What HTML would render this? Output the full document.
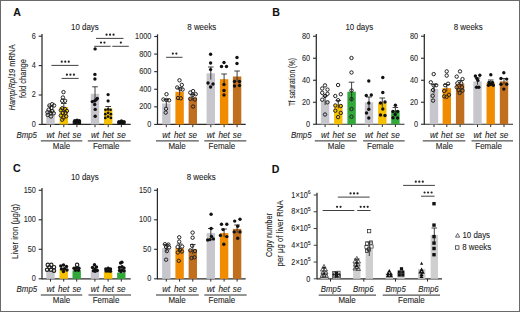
<!DOCTYPE html><html><head><meta charset="utf-8"><style>html,body{margin:0;padding:0;background:#fff;}svg{display:block;}text{font-family:"Liberation Sans", sans-serif;stroke:#222;stroke-width:0.1px;paint-order:stroke;}</style></head><body>
<svg width="520" height="312" viewBox="0 0 520 312">
<rect x="0" y="0" width="520" height="312" fill="#fff"/>
<text x="13.3" y="15.6" font-size="10.6" text-anchor="start" fill="#111" style="font-weight:bold;" stroke="#111" stroke-width="0.35">A</text>
<text x="272.3" y="15.8" font-size="10.6" text-anchor="start" fill="#111" style="font-weight:bold;" stroke="#111" stroke-width="0.35">B</text>
<text x="13" y="172.4" font-size="10.6" text-anchor="start" fill="#111" style="font-weight:bold;" stroke="#111" stroke-width="0.35">C</text>
<text x="271.8" y="172.6" font-size="10.6" text-anchor="start" fill="#111" style="font-weight:bold;" stroke="#111" stroke-width="0.35">D</text>
<text transform="translate(84.9,30) scale(0.92,1)" font-size="8.6" text-anchor="middle" fill="#1e1e1e" style="" >10 days</text>
<line x1="42" y1="34.000000000000014" x2="42" y2="124.9" stroke="#2b2b2b" stroke-width="1.25"/>
<line x1="38.7" y1="124.4" x2="42" y2="124.4" stroke="#2b2b2b" stroke-width="1.1"/>
<text transform="translate(35.80,126.85) scale(0.88,1)" font-size="8.3" text-anchor="end" fill="#262626" style="stroke-width:0.08px">0</text>
<line x1="38.7" y1="95.0" x2="42" y2="95.0" stroke="#2b2b2b" stroke-width="1.1"/>
<text transform="translate(35.80,97.45) scale(0.88,1)" font-size="8.3" text-anchor="end" fill="#262626" style="stroke-width:0.08px">2</text>
<line x1="38.7" y1="65.60000000000001" x2="42" y2="65.60000000000001" stroke="#2b2b2b" stroke-width="1.1"/>
<text transform="translate(35.80,68.05) scale(0.88,1)" font-size="8.3" text-anchor="end" fill="#262626" style="stroke-width:0.08px">4</text>
<line x1="38.7" y1="36.20000000000002" x2="42" y2="36.20000000000002" stroke="#2b2b2b" stroke-width="1.1"/>
<text transform="translate(35.80,38.65) scale(0.88,1)" font-size="8.3" text-anchor="end" fill="#262626" style="stroke-width:0.08px">6</text>
<line x1="42" y1="124.4" x2="130.7" y2="124.4" stroke="#2b2b2b" stroke-width="1.15"/>
<line x1="50.5" y1="124.4" x2="50.5" y2="127.2" stroke="#2b2b2b" stroke-width="1.0"/>
<line x1="63.8" y1="124.4" x2="63.8" y2="127.2" stroke="#2b2b2b" stroke-width="1.0"/>
<line x1="76.9" y1="124.4" x2="76.9" y2="127.2" stroke="#2b2b2b" stroke-width="1.0"/>
<line x1="95" y1="124.4" x2="95" y2="127.2" stroke="#2b2b2b" stroke-width="1.0"/>
<line x1="108.2" y1="124.4" x2="108.2" y2="127.2" stroke="#2b2b2b" stroke-width="1.0"/>
<line x1="121.4" y1="124.4" x2="121.4" y2="127.2" stroke="#2b2b2b" stroke-width="1.0"/>
<rect x="46.3" y="109.5" width="8.4" height="14.900000000000006" fill="#c6c6cc"/>
<line x1="50.5" y1="106" x2="50.5" y2="113.0" stroke="#2b2b2b" stroke-width="0.9"/>
<line x1="47.7" y1="106" x2="53.3" y2="106" stroke="#2b2b2b" stroke-width="0.9"/>
<rect x="59.599999999999994" y="107.0" width="8.4" height="17.400000000000006" fill="#f5c000"/>
<line x1="63.8" y1="103.5" x2="63.8" y2="110.5" stroke="#2b2b2b" stroke-width="0.9"/>
<line x1="61.0" y1="103.5" x2="66.6" y2="103.5" stroke="#2b2b2b" stroke-width="0.9"/>
<rect x="72.7" y="120.8" width="8.4" height="3.6000000000000085" fill="#1a1a1a"/>
<rect x="90.8" y="93.8" width="8.4" height="30.60000000000001" fill="#c6c6cc"/>
<line x1="95" y1="86.8" x2="95" y2="100.8" stroke="#2b2b2b" stroke-width="0.9"/>
<line x1="92.2" y1="86.8" x2="97.8" y2="86.8" stroke="#2b2b2b" stroke-width="0.9"/>
<rect x="104.0" y="108.6" width="8.4" height="15.800000000000011" fill="#f5c000"/>
<line x1="108.2" y1="106.5" x2="108.2" y2="110.69999999999999" stroke="#2b2b2b" stroke-width="0.9"/>
<line x1="105.4" y1="106.5" x2="111.0" y2="106.5" stroke="#2b2b2b" stroke-width="0.9"/>
<rect x="117.2" y="121.3" width="8.4" height="3.1000000000000085" fill="#1a1a1a"/>
<circle cx="52.1" cy="104.2" r="1.7" fill="none" stroke="#222" stroke-width="1.0"/>
<circle cx="49.4" cy="105.5" r="1.7" fill="none" stroke="#222" stroke-width="1.0"/>
<circle cx="54.1" cy="105.5" r="1.7" fill="none" stroke="#222" stroke-width="1.0"/>
<circle cx="51.4" cy="108" r="1.7" fill="none" stroke="#222" stroke-width="1.0"/>
<circle cx="48.7" cy="109.6" r="1.7" fill="none" stroke="#222" stroke-width="1.0"/>
<circle cx="52.1" cy="111" r="1.7" fill="none" stroke="#222" stroke-width="1.0"/>
<circle cx="47.4" cy="112.3" r="1.7" fill="none" stroke="#222" stroke-width="1.0"/>
<circle cx="50.7" cy="112.9" r="1.7" fill="none" stroke="#222" stroke-width="1.0"/>
<circle cx="53.8" cy="113.3" r="1.7" fill="none" stroke="#222" stroke-width="1.0"/>
<circle cx="47.7" cy="115" r="1.7" fill="none" stroke="#222" stroke-width="1.0"/>
<circle cx="51" cy="116.5" r="1.7" fill="none" stroke="#222" stroke-width="1.0"/>
<circle cx="63.5" cy="92.1" r="1.7" fill="none" stroke="#222" stroke-width="1.0"/>
<circle cx="62.9" cy="97.5" r="1.7" fill="none" stroke="#222" stroke-width="1.0"/>
<circle cx="62.2" cy="100.8" r="1.7" fill="none" stroke="#222" stroke-width="1.0"/>
<circle cx="65.1" cy="100.8" r="1.7" fill="none" stroke="#222" stroke-width="1.0"/>
<circle cx="62.2" cy="108.2" r="1.7" fill="none" stroke="#222" stroke-width="1.0"/>
<circle cx="64.9" cy="108.9" r="1.7" fill="none" stroke="#222" stroke-width="1.0"/>
<circle cx="60.8" cy="110.2" r="1.7" fill="none" stroke="#222" stroke-width="1.0"/>
<circle cx="66.9" cy="110.9" r="1.7" fill="none" stroke="#222" stroke-width="1.0"/>
<circle cx="62.9" cy="112.9" r="1.7" fill="none" stroke="#222" stroke-width="1.0"/>
<circle cx="65.5" cy="112.9" r="1.7" fill="none" stroke="#222" stroke-width="1.0"/>
<circle cx="60.8" cy="115.6" r="1.7" fill="none" stroke="#222" stroke-width="1.0"/>
<circle cx="66.2" cy="116.3" r="1.7" fill="none" stroke="#222" stroke-width="1.0"/>
<circle cx="63.5" cy="117.6" r="1.7" fill="none" stroke="#222" stroke-width="1.0"/>
<circle cx="62.2" cy="119.7" r="1.7" fill="none" stroke="#222" stroke-width="1.0"/>
<circle cx="74.8" cy="120.6" r="1.7" fill="#111"/>
<circle cx="77" cy="120.2" r="1.7" fill="#111"/>
<circle cx="79.3" cy="120.6" r="1.7" fill="#111"/>
<circle cx="76" cy="122" r="1.7" fill="#111"/>
<circle cx="78.5" cy="122" r="1.7" fill="#111"/>
<circle cx="95.1" cy="48.9" r="1.7" fill="#111"/>
<circle cx="94.9" cy="74.4" r="1.7" fill="#111"/>
<circle cx="94.9" cy="79" r="1.7" fill="#111"/>
<circle cx="92.3" cy="101.6" r="1.7" fill="#111"/>
<circle cx="94.7" cy="100.9" r="1.7" fill="#111"/>
<circle cx="97.3" cy="98.4" r="1.7" fill="#111"/>
<circle cx="96.2" cy="99.8" r="1.7" fill="#111"/>
<circle cx="94.7" cy="104.5" r="1.7" fill="#111"/>
<circle cx="95.2" cy="109.4" r="1.7" fill="#111"/>
<circle cx="95.2" cy="116.2" r="1.7" fill="#111"/>
<circle cx="108.1" cy="94.6" r="1.6" fill="#111"/>
<circle cx="108.1" cy="100.9" r="1.6" fill="#111"/>
<circle cx="105.5" cy="109.8" r="1.35" fill="#111"/>
<circle cx="108.1" cy="109.3" r="1.35" fill="#111"/>
<circle cx="110.6" cy="109.8" r="1.35" fill="#111"/>
<circle cx="105.3" cy="114.2" r="1.35" fill="#111"/>
<circle cx="108.1" cy="112.8" r="1.35" fill="#111"/>
<circle cx="110.9" cy="114.2" r="1.35" fill="#111"/>
<circle cx="105.3" cy="117.9" r="1.35" fill="#111"/>
<circle cx="108.1" cy="116.6" r="1.35" fill="#111"/>
<circle cx="110.9" cy="117.9" r="1.35" fill="#111"/>
<circle cx="119" cy="121.6" r="1.7" fill="#111"/>
<circle cx="121.5" cy="121" r="1.7" fill="#111"/>
<circle cx="124" cy="121.8" r="1.7" fill="#111"/>
<circle cx="120.5" cy="122.5" r="1.7" fill="#111"/>
<circle cx="123" cy="122.6" r="1.7" fill="#111"/>
<line x1="51.4" y1="65.4" x2="78.5" y2="65.4" stroke="#2b2b2b" stroke-width="0.9"/>
<circle cx="61.75" cy="61.70" r="1.1" fill="#222"/>
<circle cx="65.25" cy="61.70" r="1.1" fill="#222"/>
<circle cx="68.75" cy="61.70" r="1.1" fill="#222"/>
<line x1="61.6" y1="78.4" x2="78.6" y2="78.4" stroke="#2b2b2b" stroke-width="0.9"/>
<circle cx="66.90" cy="74.70" r="1.1" fill="#222"/>
<circle cx="70.40" cy="74.70" r="1.1" fill="#222"/>
<circle cx="73.90" cy="74.70" r="1.1" fill="#222"/>
<line x1="96" y1="38.4" x2="123.5" y2="38.4" stroke="#2b2b2b" stroke-width="0.9"/>
<circle cx="106.55" cy="34.70" r="1.1" fill="#222"/>
<circle cx="110.05" cy="34.70" r="1.1" fill="#222"/>
<circle cx="113.55" cy="34.70" r="1.1" fill="#222"/>
<line x1="94.2" y1="46.3" x2="110.6" y2="46.3" stroke="#2b2b2b" stroke-width="0.9"/>
<circle cx="100.95" cy="42.60" r="1.1" fill="#222"/>
<circle cx="104.45" cy="42.60" r="1.1" fill="#222"/>
<line x1="112.3" y1="46.3" x2="128.8" y2="46.3" stroke="#2b2b2b" stroke-width="0.9"/>
<circle cx="120.85" cy="42.60" r="1.1" fill="#222"/>
<text transform="translate(50.5,137.6) scale(0.91,1)" font-size="9.0" text-anchor="middle" fill="#1e1e1e" style="font-style:italic;" >wt</text>
<text transform="translate(63.8,137.6) scale(0.91,1)" font-size="9.0" text-anchor="middle" fill="#1e1e1e" style="font-style:italic;" >het</text>
<text transform="translate(76.9,137.6) scale(0.91,1)" font-size="9.0" text-anchor="middle" fill="#1e1e1e" style="font-style:italic;" >se</text>
<line x1="40.8" y1="140.9" x2="82.3" y2="140.9" stroke="#2b2b2b" stroke-width="1.0"/>
<text transform="translate(61.5,149) scale(0.93,1)" font-size="8.6" text-anchor="middle" fill="#1e1e1e" style="" >Male</text>
<text transform="translate(95,137.6) scale(0.91,1)" font-size="9.0" text-anchor="middle" fill="#1e1e1e" style="font-style:italic;" >wt</text>
<text transform="translate(108.2,137.6) scale(0.91,1)" font-size="9.0" text-anchor="middle" fill="#1e1e1e" style="font-style:italic;" >het</text>
<text transform="translate(121.4,137.6) scale(0.91,1)" font-size="9.0" text-anchor="middle" fill="#1e1e1e" style="font-style:italic;" >se</text>
<line x1="87.8" y1="140.9" x2="130.7" y2="140.9" stroke="#2b2b2b" stroke-width="1.0"/>
<text transform="translate(106.2,149) scale(0.93,1)" font-size="8.6" text-anchor="middle" fill="#1e1e1e" style="" >Female</text>
<text transform="translate(26.7,137.6) scale(0.92,1)" font-size="8.6" text-anchor="middle" fill="#1e1e1e" font-style="italic">Bmp5</text>
<text transform="translate(15.3,77.5) rotate(-90)" font-size="8.4" text-anchor="middle" fill="#1e1e1e" textLength="66" lengthAdjust="spacingAndGlyphs"><tspan font-style="italic">Hamp/Rpl19</tspan> mRNA</text>
<text transform="translate(25.8,78.5) rotate(-90)" font-size="8.4" text-anchor="middle" fill="#1e1e1e" textLength="39" lengthAdjust="spacingAndGlyphs">fold change</text>
<text transform="translate(201.8,29.8) scale(0.92,1)" font-size="8.6" text-anchor="middle" fill="#1e1e1e" style="" >8 weeks</text>
<line x1="157.5" y1="34.3" x2="157.5" y2="124.9" stroke="#2b2b2b" stroke-width="1.25"/>
<line x1="154.2" y1="124.4" x2="157.5" y2="124.4" stroke="#2b2b2b" stroke-width="1.1"/>
<text transform="translate(151.30,126.85) scale(0.88,1)" font-size="8.3" text-anchor="end" fill="#262626" style="stroke-width:0.08px">0</text>
<line x1="154.2" y1="106.82000000000001" x2="157.5" y2="106.82000000000001" stroke="#2b2b2b" stroke-width="1.1"/>
<text transform="translate(151.30,109.27) scale(0.88,1)" font-size="8.3" text-anchor="end" fill="#262626" style="stroke-width:0.08px">200</text>
<line x1="154.2" y1="89.24000000000001" x2="157.5" y2="89.24000000000001" stroke="#2b2b2b" stroke-width="1.1"/>
<text transform="translate(151.30,91.69) scale(0.88,1)" font-size="8.3" text-anchor="end" fill="#262626" style="stroke-width:0.08px">400</text>
<line x1="154.2" y1="71.66" x2="157.5" y2="71.66" stroke="#2b2b2b" stroke-width="1.1"/>
<text transform="translate(151.30,74.11) scale(0.88,1)" font-size="8.3" text-anchor="end" fill="#262626" style="stroke-width:0.08px">600</text>
<line x1="154.2" y1="54.08" x2="157.5" y2="54.08" stroke="#2b2b2b" stroke-width="1.1"/>
<text transform="translate(151.30,56.53) scale(0.88,1)" font-size="8.3" text-anchor="end" fill="#262626" style="stroke-width:0.08px">800</text>
<line x1="154.2" y1="36.5" x2="157.5" y2="36.5" stroke="#2b2b2b" stroke-width="1.1"/>
<text transform="translate(151.30,38.95) scale(0.88,1)" font-size="8.3" text-anchor="end" fill="#262626" style="stroke-width:0.08px">1000</text>
<line x1="157.5" y1="124.4" x2="245.7" y2="124.4" stroke="#2b2b2b" stroke-width="1.15"/>
<line x1="166.3" y1="124.4" x2="166.3" y2="127.2" stroke="#2b2b2b" stroke-width="1.0"/>
<line x1="179.6" y1="124.4" x2="179.6" y2="127.2" stroke="#2b2b2b" stroke-width="1.0"/>
<line x1="192.8" y1="124.4" x2="192.8" y2="127.2" stroke="#2b2b2b" stroke-width="1.0"/>
<line x1="210.8" y1="124.4" x2="210.8" y2="127.2" stroke="#2b2b2b" stroke-width="1.0"/>
<line x1="224.1" y1="124.4" x2="224.1" y2="127.2" stroke="#2b2b2b" stroke-width="1.0"/>
<line x1="237.1" y1="124.4" x2="237.1" y2="127.2" stroke="#2b2b2b" stroke-width="1.0"/>
<rect x="162.10000000000002" y="103.5" width="8.4" height="20.900000000000006" fill="#c6c6cc"/>
<line x1="166.3" y1="99.5" x2="166.3" y2="107.5" stroke="#2b2b2b" stroke-width="0.9"/>
<line x1="163.5" y1="99.5" x2="169.10000000000002" y2="99.5" stroke="#2b2b2b" stroke-width="0.9"/>
<rect x="175.4" y="91.8" width="8.4" height="32.60000000000001" fill="#f18c00"/>
<line x1="179.6" y1="88" x2="179.6" y2="95.6" stroke="#2b2b2b" stroke-width="0.9"/>
<line x1="176.79999999999998" y1="88" x2="182.4" y2="88" stroke="#2b2b2b" stroke-width="0.9"/>
<rect x="188.60000000000002" y="97.5" width="8.4" height="26.900000000000006" fill="#c06f1e"/>
<line x1="192.8" y1="94.5" x2="192.8" y2="100.5" stroke="#2b2b2b" stroke-width="0.9"/>
<line x1="190.0" y1="94.5" x2="195.60000000000002" y2="94.5" stroke="#2b2b2b" stroke-width="0.9"/>
<rect x="206.60000000000002" y="73.3" width="8.4" height="51.10000000000001" fill="#c6c6cc"/>
<line x1="210.8" y1="67" x2="210.8" y2="79.6" stroke="#2b2b2b" stroke-width="0.9"/>
<line x1="208.0" y1="67" x2="213.60000000000002" y2="67" stroke="#2b2b2b" stroke-width="0.9"/>
<rect x="219.9" y="79.2" width="8.4" height="45.2" fill="#f18c00"/>
<line x1="224.1" y1="74" x2="224.1" y2="84.4" stroke="#2b2b2b" stroke-width="0.9"/>
<line x1="221.29999999999998" y1="74" x2="226.9" y2="74" stroke="#2b2b2b" stroke-width="0.9"/>
<rect x="232.9" y="76.5" width="8.4" height="47.900000000000006" fill="#c06f1e"/>
<line x1="237.1" y1="71" x2="237.1" y2="82.0" stroke="#2b2b2b" stroke-width="0.9"/>
<line x1="234.29999999999998" y1="71" x2="239.9" y2="71" stroke="#2b2b2b" stroke-width="0.9"/>
<circle cx="166.5" cy="94.2" r="1.7" fill="none" stroke="#222" stroke-width="1.0"/>
<circle cx="163.4" cy="99.5" r="1.7" fill="none" stroke="#222" stroke-width="1.0"/>
<circle cx="166.5" cy="100" r="1.7" fill="none" stroke="#222" stroke-width="1.0"/>
<circle cx="169.1" cy="100.3" r="1.7" fill="none" stroke="#222" stroke-width="1.0"/>
<circle cx="166" cy="108.8" r="1.7" fill="none" stroke="#222" stroke-width="1.0"/>
<circle cx="165.7" cy="112.6" r="1.7" fill="none" stroke="#222" stroke-width="1.0"/>
<circle cx="179.5" cy="80.3" r="1.7" fill="none" stroke="#222" stroke-width="1.0"/>
<circle cx="181.8" cy="84.9" r="1.7" fill="none" stroke="#222" stroke-width="1.0"/>
<circle cx="177.2" cy="87.5" r="1.7" fill="none" stroke="#222" stroke-width="1.0"/>
<circle cx="180.3" cy="89.1" r="1.7" fill="none" stroke="#222" stroke-width="1.0"/>
<circle cx="182.6" cy="89.5" r="1.7" fill="none" stroke="#222" stroke-width="1.0"/>
<circle cx="178" cy="98" r="1.7" fill="none" stroke="#222" stroke-width="1.0"/>
<circle cx="180.8" cy="98.3" r="1.7" fill="none" stroke="#222" stroke-width="1.0"/>
<circle cx="193.1" cy="91.1" r="1.7" fill="none" stroke="#222" stroke-width="1.0"/>
<circle cx="190.3" cy="92.6" r="1.7" fill="none" stroke="#222" stroke-width="1.0"/>
<circle cx="195.7" cy="94.2" r="1.7" fill="none" stroke="#222" stroke-width="1.0"/>
<circle cx="192.6" cy="95" r="1.7" fill="none" stroke="#222" stroke-width="1.0"/>
<circle cx="190.3" cy="98.8" r="1.7" fill="none" stroke="#222" stroke-width="1.0"/>
<circle cx="194.9" cy="99.5" r="1.7" fill="none" stroke="#222" stroke-width="1.0"/>
<circle cx="193.1" cy="106.5" r="1.7" fill="none" stroke="#222" stroke-width="1.0"/>
<circle cx="210.6" cy="54.2" r="1.7" fill="#111"/>
<circle cx="210.6" cy="63" r="1.7" fill="#111"/>
<circle cx="210.6" cy="69.6" r="1.7" fill="#111"/>
<circle cx="208" cy="83" r="1.7" fill="#111"/>
<circle cx="213" cy="84" r="1.7" fill="#111"/>
<circle cx="210.6" cy="87" r="1.7" fill="#111"/>
<circle cx="224" cy="62.5" r="1.7" fill="#111"/>
<circle cx="221.5" cy="66.5" r="1.7" fill="#111"/>
<circle cx="226.5" cy="66.5" r="1.7" fill="#111"/>
<circle cx="224" cy="84.5" r="1.7" fill="#111"/>
<circle cx="224" cy="90.5" r="1.7" fill="#111"/>
<circle cx="224" cy="95" r="1.7" fill="#111"/>
<circle cx="237" cy="57.5" r="1.7" fill="#111"/>
<circle cx="237" cy="63.5" r="1.7" fill="#111"/>
<circle cx="234.5" cy="81.5" r="1.7" fill="#111"/>
<circle cx="239.5" cy="81.5" r="1.7" fill="#111"/>
<circle cx="234.5" cy="86" r="1.7" fill="#111"/>
<circle cx="239.5" cy="85.5" r="1.7" fill="#111"/>
<line x1="166.1" y1="57.3" x2="182.5" y2="57.3" stroke="#2b2b2b" stroke-width="0.9"/>
<circle cx="172.85" cy="53.60" r="1.1" fill="#222"/>
<circle cx="176.35" cy="53.60" r="1.1" fill="#222"/>
<text transform="translate(166.3,137.6) scale(0.91,1)" font-size="9.0" text-anchor="middle" fill="#1e1e1e" style="font-style:italic;" >wt</text>
<text transform="translate(179.6,137.6) scale(0.91,1)" font-size="9.0" text-anchor="middle" fill="#1e1e1e" style="font-style:italic;" >het</text>
<text transform="translate(192.8,137.6) scale(0.91,1)" font-size="9.0" text-anchor="middle" fill="#1e1e1e" style="font-style:italic;" >se</text>
<line x1="156" y1="140.9" x2="198.8" y2="140.9" stroke="#2b2b2b" stroke-width="1.0"/>
<text transform="translate(177.1,149) scale(0.93,1)" font-size="8.6" text-anchor="middle" fill="#1e1e1e" style="" >Male</text>
<text transform="translate(210.8,137.6) scale(0.91,1)" font-size="9.0" text-anchor="middle" fill="#1e1e1e" style="font-style:italic;" >wt</text>
<text transform="translate(224.1,137.6) scale(0.91,1)" font-size="9.0" text-anchor="middle" fill="#1e1e1e" style="font-style:italic;" >het</text>
<text transform="translate(237.1,137.6) scale(0.91,1)" font-size="9.0" text-anchor="middle" fill="#1e1e1e" style="font-style:italic;" >se</text>
<line x1="204.3" y1="140.9" x2="246.3" y2="140.9" stroke="#2b2b2b" stroke-width="1.0"/>
<text transform="translate(221.9,149) scale(0.93,1)" font-size="8.6" text-anchor="middle" fill="#1e1e1e" style="" >Female</text>
<text transform="translate(359.3,30) scale(0.92,1)" font-size="8.6" text-anchor="middle" fill="#1e1e1e" style="" >10 days</text>
<line x1="316.3" y1="34.05" x2="316.3" y2="124.75" stroke="#2b2b2b" stroke-width="1.25"/>
<line x1="313.0" y1="124.25" x2="316.3" y2="124.25" stroke="#2b2b2b" stroke-width="1.1"/>
<text transform="translate(310.10,126.70) scale(0.88,1)" font-size="8.3" text-anchor="end" fill="#262626" style="stroke-width:0.08px">0</text>
<line x1="313.0" y1="102.25" x2="316.3" y2="102.25" stroke="#2b2b2b" stroke-width="1.1"/>
<text transform="translate(310.10,104.70) scale(0.88,1)" font-size="8.3" text-anchor="end" fill="#262626" style="stroke-width:0.08px">20</text>
<line x1="313.0" y1="80.25" x2="316.3" y2="80.25" stroke="#2b2b2b" stroke-width="1.1"/>
<text transform="translate(310.10,82.70) scale(0.88,1)" font-size="8.3" text-anchor="end" fill="#262626" style="stroke-width:0.08px">40</text>
<line x1="313.0" y1="58.25" x2="316.3" y2="58.25" stroke="#2b2b2b" stroke-width="1.1"/>
<text transform="translate(310.10,60.70) scale(0.88,1)" font-size="8.3" text-anchor="end" fill="#262626" style="stroke-width:0.08px">60</text>
<line x1="313.0" y1="36.25" x2="316.3" y2="36.25" stroke="#2b2b2b" stroke-width="1.1"/>
<text transform="translate(310.10,38.70) scale(0.88,1)" font-size="8.3" text-anchor="end" fill="#262626" style="stroke-width:0.08px">80</text>
<line x1="316.3" y1="124.25" x2="404.5" y2="124.25" stroke="#2b2b2b" stroke-width="1.15"/>
<line x1="325.1" y1="124.25" x2="325.1" y2="127.05" stroke="#2b2b2b" stroke-width="1.0"/>
<line x1="338.3" y1="124.25" x2="338.3" y2="127.05" stroke="#2b2b2b" stroke-width="1.0"/>
<line x1="351.6" y1="124.25" x2="351.6" y2="127.05" stroke="#2b2b2b" stroke-width="1.0"/>
<line x1="369" y1="124.25" x2="369" y2="127.05" stroke="#2b2b2b" stroke-width="1.0"/>
<line x1="382.3" y1="124.25" x2="382.3" y2="127.05" stroke="#2b2b2b" stroke-width="1.0"/>
<line x1="395.4" y1="124.25" x2="395.4" y2="127.05" stroke="#2b2b2b" stroke-width="1.0"/>
<rect x="320.90000000000003" y="100.5" width="8.4" height="23.75" fill="#c6c6cc"/>
<line x1="325.1" y1="96" x2="325.1" y2="105.0" stroke="#2b2b2b" stroke-width="0.9"/>
<line x1="322.3" y1="96" x2="327.90000000000003" y2="96" stroke="#2b2b2b" stroke-width="0.9"/>
<rect x="334.1" y="104.4" width="8.4" height="19.849999999999994" fill="#f5c000"/>
<line x1="338.3" y1="100.5" x2="338.3" y2="108.30000000000001" stroke="#2b2b2b" stroke-width="0.9"/>
<line x1="335.5" y1="100.5" x2="341.1" y2="100.5" stroke="#2b2b2b" stroke-width="0.9"/>
<rect x="347.40000000000003" y="91.7" width="8.4" height="32.55" fill="#32a83a"/>
<line x1="351.6" y1="82.2" x2="351.6" y2="101.2" stroke="#2b2b2b" stroke-width="0.9"/>
<line x1="348.8" y1="82.2" x2="354.40000000000003" y2="82.2" stroke="#2b2b2b" stroke-width="0.9"/>
<rect x="364.8" y="102.4" width="8.4" height="21.849999999999994" fill="#c6c6cc"/>
<line x1="369" y1="97" x2="369" y2="107.80000000000001" stroke="#2b2b2b" stroke-width="0.9"/>
<line x1="366.2" y1="97" x2="371.8" y2="97" stroke="#2b2b2b" stroke-width="0.9"/>
<rect x="378.1" y="102.4" width="8.4" height="21.849999999999994" fill="#f5c000"/>
<line x1="382.3" y1="98" x2="382.3" y2="106.80000000000001" stroke="#2b2b2b" stroke-width="0.9"/>
<line x1="379.5" y1="98" x2="385.1" y2="98" stroke="#2b2b2b" stroke-width="0.9"/>
<rect x="391.2" y="110.6" width="8.4" height="13.650000000000006" fill="#32a83a"/>
<line x1="395.4" y1="107.5" x2="395.4" y2="113.69999999999999" stroke="#2b2b2b" stroke-width="0.9"/>
<line x1="392.59999999999997" y1="107.5" x2="398.2" y2="107.5" stroke="#2b2b2b" stroke-width="0.9"/>
<circle cx="325" cy="85.4" r="1.7" fill="none" stroke="#222" stroke-width="1.0"/>
<circle cx="322.2" cy="88.5" r="1.7" fill="none" stroke="#222" stroke-width="1.0"/>
<circle cx="327.5" cy="89.6" r="1.7" fill="none" stroke="#222" stroke-width="1.0"/>
<circle cx="322.2" cy="92.8" r="1.7" fill="none" stroke="#222" stroke-width="1.0"/>
<circle cx="327.5" cy="93.8" r="1.7" fill="none" stroke="#222" stroke-width="1.0"/>
<circle cx="325" cy="96" r="1.7" fill="none" stroke="#222" stroke-width="1.0"/>
<circle cx="322.2" cy="99.7" r="1.7" fill="none" stroke="#222" stroke-width="1.0"/>
<circle cx="327.5" cy="102.3" r="1.7" fill="none" stroke="#222" stroke-width="1.0"/>
<circle cx="325" cy="114.5" r="1.7" fill="none" stroke="#222" stroke-width="1.0"/>
<circle cx="338.1" cy="85" r="1.7" fill="none" stroke="#222" stroke-width="1.0"/>
<circle cx="335.3" cy="96" r="1.7" fill="none" stroke="#222" stroke-width="1.0"/>
<circle cx="340.8" cy="94.2" r="1.7" fill="none" stroke="#222" stroke-width="1.0"/>
<circle cx="338.1" cy="100.2" r="1.7" fill="none" stroke="#222" stroke-width="1.0"/>
<circle cx="335.3" cy="105.5" r="1.7" fill="none" stroke="#222" stroke-width="1.0"/>
<circle cx="340.8" cy="106" r="1.7" fill="none" stroke="#222" stroke-width="1.0"/>
<circle cx="335.3" cy="110.7" r="1.7" fill="none" stroke="#222" stroke-width="1.0"/>
<circle cx="340.8" cy="112.9" r="1.7" fill="none" stroke="#222" stroke-width="1.0"/>
<circle cx="338.1" cy="117.1" r="1.7" fill="none" stroke="#222" stroke-width="1.0"/>
<circle cx="351.5" cy="58" r="1.7" fill="none" stroke="#222" stroke-width="1.0"/>
<circle cx="351.5" cy="72.5" r="1.7" fill="none" stroke="#222" stroke-width="1.0"/>
<circle cx="351.5" cy="90.5" r="1.7" fill="none" stroke="#222" stroke-width="1.0"/>
<circle cx="351.5" cy="99.1" r="1.7" fill="none" stroke="#222" stroke-width="1.0"/>
<circle cx="351.5" cy="109" r="1.7" fill="none" stroke="#222" stroke-width="1.0"/>
<circle cx="351.5" cy="116.7" r="1.7" fill="none" stroke="#222" stroke-width="1.0"/>
<circle cx="368.8" cy="81" r="1.7" fill="#111"/>
<circle cx="366.3" cy="95.5" r="1.7" fill="#111"/>
<circle cx="371.3" cy="95" r="1.7" fill="#111"/>
<circle cx="368.8" cy="103" r="1.7" fill="#111"/>
<circle cx="368.8" cy="109.3" r="1.7" fill="#111"/>
<circle cx="368.8" cy="118" r="1.7" fill="#111"/>
<circle cx="366.5" cy="113" r="1.7" fill="#111"/>
<circle cx="382.8" cy="77.5" r="1.7" fill="#111"/>
<circle cx="382.8" cy="92.5" r="1.7" fill="#111"/>
<circle cx="380.5" cy="103" r="1.7" fill="#111"/>
<circle cx="385" cy="102" r="1.7" fill="#111"/>
<circle cx="382.8" cy="109" r="1.7" fill="#111"/>
<circle cx="380.5" cy="115" r="1.7" fill="#111"/>
<circle cx="385" cy="115.5" r="1.7" fill="#111"/>
<circle cx="395.4" cy="105.2" r="1.7" fill="#111"/>
<circle cx="393" cy="111.5" r="1.7" fill="#111"/>
<circle cx="397.6" cy="111.5" r="1.7" fill="#111"/>
<circle cx="395.2" cy="114.5" r="1.7" fill="#111"/>
<circle cx="393" cy="117.8" r="1.7" fill="#111"/>
<circle cx="397.6" cy="118" r="1.7" fill="#111"/>
<text transform="translate(325.1,137.6) scale(0.91,1)" font-size="9.0" text-anchor="middle" fill="#1e1e1e" style="font-style:italic;" >wt</text>
<text transform="translate(338.3,137.6) scale(0.91,1)" font-size="9.0" text-anchor="middle" fill="#1e1e1e" style="font-style:italic;" >het</text>
<text transform="translate(351.6,137.6) scale(0.91,1)" font-size="9.0" text-anchor="middle" fill="#1e1e1e" style="font-style:italic;" >se</text>
<line x1="314.8" y1="140.9" x2="356.8" y2="140.9" stroke="#2b2b2b" stroke-width="1.0"/>
<text transform="translate(336.4,149) scale(0.93,1)" font-size="8.6" text-anchor="middle" fill="#1e1e1e" style="" >Male</text>
<text transform="translate(369,137.6) scale(0.91,1)" font-size="9.0" text-anchor="middle" fill="#1e1e1e" style="font-style:italic;" >wt</text>
<text transform="translate(382.3,137.6) scale(0.91,1)" font-size="9.0" text-anchor="middle" fill="#1e1e1e" style="font-style:italic;" >het</text>
<text transform="translate(395.4,137.6) scale(0.91,1)" font-size="9.0" text-anchor="middle" fill="#1e1e1e" style="font-style:italic;" >se</text>
<line x1="363.1" y1="140.9" x2="404.7" y2="140.9" stroke="#2b2b2b" stroke-width="1.0"/>
<text transform="translate(380.35,149) scale(0.93,1)" font-size="8.6" text-anchor="middle" fill="#1e1e1e" style="" >Female</text>
<text transform="translate(301.3,137.6) scale(0.92,1)" font-size="8.6" text-anchor="middle" fill="#1e1e1e" font-style="italic">Bmp5</text>
<text transform="translate(295.2,82.1) rotate(-90)" font-size="8.5" text-anchor="middle" fill="#1e1e1e" textLength="48" lengthAdjust="spacingAndGlyphs">Tf saturation (%)</text>
<text transform="translate(468.2,29.8) scale(0.92,1)" font-size="8.6" text-anchor="middle" fill="#1e1e1e" style="" >8 weeks</text>
<line x1="424.3" y1="34.05" x2="424.3" y2="124.75" stroke="#2b2b2b" stroke-width="1.25"/>
<line x1="421.0" y1="124.25" x2="424.3" y2="124.25" stroke="#2b2b2b" stroke-width="1.1"/>
<text transform="translate(418.10,126.70) scale(0.88,1)" font-size="8.3" text-anchor="end" fill="#262626" style="stroke-width:0.08px">0</text>
<line x1="421.0" y1="102.25" x2="424.3" y2="102.25" stroke="#2b2b2b" stroke-width="1.1"/>
<text transform="translate(418.10,104.70) scale(0.88,1)" font-size="8.3" text-anchor="end" fill="#262626" style="stroke-width:0.08px">20</text>
<line x1="421.0" y1="80.25" x2="424.3" y2="80.25" stroke="#2b2b2b" stroke-width="1.1"/>
<text transform="translate(418.10,82.70) scale(0.88,1)" font-size="8.3" text-anchor="end" fill="#262626" style="stroke-width:0.08px">40</text>
<line x1="421.0" y1="58.25" x2="424.3" y2="58.25" stroke="#2b2b2b" stroke-width="1.1"/>
<text transform="translate(418.10,60.70) scale(0.88,1)" font-size="8.3" text-anchor="end" fill="#262626" style="stroke-width:0.08px">60</text>
<line x1="421.0" y1="36.25" x2="424.3" y2="36.25" stroke="#2b2b2b" stroke-width="1.1"/>
<text transform="translate(418.10,38.70) scale(0.88,1)" font-size="8.3" text-anchor="end" fill="#262626" style="stroke-width:0.08px">80</text>
<line x1="424.3" y1="124.25" x2="513" y2="124.25" stroke="#2b2b2b" stroke-width="1.15"/>
<line x1="434" y1="124.25" x2="434" y2="127.05" stroke="#2b2b2b" stroke-width="1.0"/>
<line x1="446.8" y1="124.25" x2="446.8" y2="127.05" stroke="#2b2b2b" stroke-width="1.0"/>
<line x1="460.1" y1="124.25" x2="460.1" y2="127.05" stroke="#2b2b2b" stroke-width="1.0"/>
<line x1="477.5" y1="124.25" x2="477.5" y2="127.05" stroke="#2b2b2b" stroke-width="1.0"/>
<line x1="490.7" y1="124.25" x2="490.7" y2="127.05" stroke="#2b2b2b" stroke-width="1.0"/>
<line x1="504" y1="124.25" x2="504" y2="127.05" stroke="#2b2b2b" stroke-width="1.0"/>
<rect x="429.8" y="89.1" width="8.4" height="35.150000000000006" fill="#c6c6cc"/>
<line x1="434" y1="84.5" x2="434" y2="93.69999999999999" stroke="#2b2b2b" stroke-width="0.9"/>
<line x1="431.2" y1="84.5" x2="436.8" y2="84.5" stroke="#2b2b2b" stroke-width="0.9"/>
<rect x="442.6" y="88.1" width="8.4" height="36.150000000000006" fill="#f18c00"/>
<line x1="446.8" y1="84.5" x2="446.8" y2="91.69999999999999" stroke="#2b2b2b" stroke-width="0.9"/>
<line x1="444.0" y1="84.5" x2="449.6" y2="84.5" stroke="#2b2b2b" stroke-width="0.9"/>
<rect x="455.90000000000003" y="83.7" width="8.4" height="40.55" fill="#c06f1e"/>
<line x1="460.1" y1="80.5" x2="460.1" y2="86.9" stroke="#2b2b2b" stroke-width="0.9"/>
<line x1="457.3" y1="80.5" x2="462.90000000000003" y2="80.5" stroke="#2b2b2b" stroke-width="0.9"/>
<rect x="473.3" y="81.4" width="8.4" height="42.849999999999994" fill="#c6c6cc"/>
<line x1="477.5" y1="78" x2="477.5" y2="84.80000000000001" stroke="#2b2b2b" stroke-width="0.9"/>
<line x1="474.7" y1="78" x2="480.3" y2="78" stroke="#2b2b2b" stroke-width="0.9"/>
<rect x="486.5" y="82.9" width="8.4" height="41.349999999999994" fill="#f18c00"/>
<line x1="490.7" y1="80" x2="490.7" y2="85.80000000000001" stroke="#2b2b2b" stroke-width="0.9"/>
<line x1="487.9" y1="80" x2="493.5" y2="80" stroke="#2b2b2b" stroke-width="0.9"/>
<rect x="499.8" y="81.4" width="8.4" height="42.849999999999994" fill="#c06f1e"/>
<line x1="504" y1="78.5" x2="504" y2="84.30000000000001" stroke="#2b2b2b" stroke-width="0.9"/>
<line x1="501.2" y1="78.5" x2="506.8" y2="78.5" stroke="#2b2b2b" stroke-width="0.9"/>
<circle cx="433.7" cy="74.1" r="1.7" fill="none" stroke="#222" stroke-width="1.0"/>
<circle cx="430.8" cy="82.3" r="1.7" fill="none" stroke="#222" stroke-width="1.0"/>
<circle cx="436.2" cy="85.2" r="1.7" fill="none" stroke="#222" stroke-width="1.0"/>
<circle cx="433.7" cy="85.5" r="1.7" fill="none" stroke="#222" stroke-width="1.0"/>
<circle cx="433.1" cy="90" r="1.7" fill="none" stroke="#222" stroke-width="1.0"/>
<circle cx="432.7" cy="95.8" r="1.7" fill="none" stroke="#222" stroke-width="1.0"/>
<circle cx="433.1" cy="100.6" r="1.7" fill="none" stroke="#222" stroke-width="1.0"/>
<circle cx="446.7" cy="71.4" r="1.7" fill="none" stroke="#222" stroke-width="1.0"/>
<circle cx="446.7" cy="75.6" r="1.7" fill="none" stroke="#222" stroke-width="1.0"/>
<circle cx="448.1" cy="83.7" r="1.7" fill="none" stroke="#222" stroke-width="1.0"/>
<circle cx="445.2" cy="85.2" r="1.7" fill="none" stroke="#222" stroke-width="1.0"/>
<circle cx="444.2" cy="91" r="1.7" fill="none" stroke="#222" stroke-width="1.0"/>
<circle cx="449" cy="94.8" r="1.7" fill="none" stroke="#222" stroke-width="1.0"/>
<circle cx="444.2" cy="96.4" r="1.7" fill="none" stroke="#222" stroke-width="1.0"/>
<circle cx="446.6" cy="96.8" r="1.7" fill="none" stroke="#222" stroke-width="1.0"/>
<circle cx="460" cy="71.4" r="1.7" fill="none" stroke="#222" stroke-width="1.0"/>
<circle cx="456.7" cy="76.6" r="1.7" fill="none" stroke="#222" stroke-width="1.0"/>
<circle cx="462.5" cy="79.1" r="1.7" fill="none" stroke="#222" stroke-width="1.0"/>
<circle cx="457.3" cy="83.3" r="1.7" fill="none" stroke="#222" stroke-width="1.0"/>
<circle cx="461.2" cy="83.3" r="1.7" fill="none" stroke="#222" stroke-width="1.0"/>
<circle cx="456.7" cy="87.2" r="1.7" fill="none" stroke="#222" stroke-width="1.0"/>
<circle cx="461.9" cy="87.2" r="1.7" fill="none" stroke="#222" stroke-width="1.0"/>
<circle cx="458.7" cy="90" r="1.7" fill="none" stroke="#222" stroke-width="1.0"/>
<circle cx="462.5" cy="90.6" r="1.7" fill="none" stroke="#222" stroke-width="1.0"/>
<circle cx="459.6" cy="92.9" r="1.7" fill="none" stroke="#222" stroke-width="1.0"/>
<circle cx="475.4" cy="76" r="1.7" fill="#111"/>
<circle cx="479.8" cy="75.2" r="1.7" fill="#111"/>
<circle cx="476.9" cy="78.5" r="1.7" fill="#111"/>
<circle cx="477.9" cy="80.4" r="1.7" fill="#111"/>
<circle cx="476.5" cy="87.2" r="1.7" fill="#111"/>
<circle cx="478.8" cy="87.2" r="1.7" fill="#111"/>
<circle cx="490.8" cy="74.7" r="1.7" fill="#111"/>
<circle cx="488.5" cy="85.2" r="1.7" fill="#111"/>
<circle cx="493.3" cy="85.2" r="1.7" fill="#111"/>
<circle cx="490.8" cy="84.3" r="1.7" fill="#111"/>
<circle cx="489" cy="82.5" r="1.7" fill="#111"/>
<circle cx="492.5" cy="82.5" r="1.7" fill="#111"/>
<circle cx="503.8" cy="72.7" r="1.7" fill="#111"/>
<circle cx="501" cy="78.5" r="1.7" fill="#111"/>
<circle cx="506.7" cy="79.1" r="1.7" fill="#111"/>
<circle cx="501" cy="84.3" r="1.7" fill="#111"/>
<circle cx="506.7" cy="84.3" r="1.7" fill="#111"/>
<circle cx="503.8" cy="89.1" r="1.7" fill="#111"/>
<text transform="translate(434,137.6) scale(0.91,1)" font-size="9.0" text-anchor="middle" fill="#1e1e1e" style="font-style:italic;" >wt</text>
<text transform="translate(446.8,137.6) scale(0.91,1)" font-size="9.0" text-anchor="middle" fill="#1e1e1e" style="font-style:italic;" >het</text>
<text transform="translate(460.1,137.6) scale(0.91,1)" font-size="9.0" text-anchor="middle" fill="#1e1e1e" style="font-style:italic;" >se</text>
<line x1="422.8" y1="140.9" x2="465.4" y2="140.9" stroke="#2b2b2b" stroke-width="1.0"/>
<text transform="translate(444.4,149) scale(0.93,1)" font-size="8.6" text-anchor="middle" fill="#1e1e1e" style="" >Male</text>
<text transform="translate(477.5,137.6) scale(0.91,1)" font-size="9.0" text-anchor="middle" fill="#1e1e1e" style="font-style:italic;" >wt</text>
<text transform="translate(490.7,137.6) scale(0.91,1)" font-size="9.0" text-anchor="middle" fill="#1e1e1e" style="font-style:italic;" >het</text>
<text transform="translate(504,137.6) scale(0.91,1)" font-size="9.0" text-anchor="middle" fill="#1e1e1e" style="font-style:italic;" >se</text>
<line x1="471.5" y1="140.9" x2="513" y2="140.9" stroke="#2b2b2b" stroke-width="1.0"/>
<text transform="translate(488.6,149) scale(0.93,1)" font-size="8.6" text-anchor="middle" fill="#1e1e1e" style="" >Female</text>
<text transform="translate(84.8,179.6) scale(0.92,1)" font-size="8.6" text-anchor="middle" fill="#1e1e1e" style="" >10 days</text>
<line x1="42" y1="188.10000000000002" x2="42" y2="279.3" stroke="#2b2b2b" stroke-width="1.25"/>
<line x1="38.7" y1="278.8" x2="42" y2="278.8" stroke="#2b2b2b" stroke-width="1.1"/>
<text transform="translate(35.80,281.25) scale(0.88,1)" font-size="8.3" text-anchor="end" fill="#262626" style="stroke-width:0.08px">0</text>
<line x1="38.7" y1="249.3" x2="42" y2="249.3" stroke="#2b2b2b" stroke-width="1.1"/>
<text transform="translate(35.80,251.75) scale(0.88,1)" font-size="8.3" text-anchor="end" fill="#262626" style="stroke-width:0.08px">50</text>
<line x1="38.7" y1="219.8" x2="42" y2="219.8" stroke="#2b2b2b" stroke-width="1.1"/>
<text transform="translate(35.80,222.25) scale(0.88,1)" font-size="8.3" text-anchor="end" fill="#262626" style="stroke-width:0.08px">100</text>
<line x1="38.7" y1="190.3" x2="42" y2="190.3" stroke="#2b2b2b" stroke-width="1.1"/>
<text transform="translate(35.80,192.75) scale(0.88,1)" font-size="8.3" text-anchor="end" fill="#262626" style="stroke-width:0.08px">150</text>
<line x1="42" y1="278.8" x2="130.7" y2="278.8" stroke="#2b2b2b" stroke-width="1.15"/>
<line x1="50.5" y1="278.8" x2="50.5" y2="281.6" stroke="#2b2b2b" stroke-width="1.0"/>
<line x1="63.7" y1="278.8" x2="63.7" y2="281.6" stroke="#2b2b2b" stroke-width="1.0"/>
<line x1="76.7" y1="278.8" x2="76.7" y2="281.6" stroke="#2b2b2b" stroke-width="1.0"/>
<line x1="94.9" y1="278.8" x2="94.9" y2="281.6" stroke="#2b2b2b" stroke-width="1.0"/>
<line x1="108.1" y1="278.8" x2="108.1" y2="281.6" stroke="#2b2b2b" stroke-width="1.0"/>
<line x1="121.3" y1="278.8" x2="121.3" y2="281.6" stroke="#2b2b2b" stroke-width="1.0"/>
<rect x="46.3" y="270" width="8.4" height="8.800000000000011" fill="#c6c6cc"/>
<rect x="59.5" y="269" width="8.4" height="9.800000000000011" fill="#f5c000"/>
<rect x="72.5" y="270.5" width="8.4" height="8.300000000000011" fill="#32a83a"/>
<rect x="90.7" y="271.5" width="8.4" height="7.300000000000011" fill="#c6c6cc"/>
<rect x="103.89999999999999" y="272" width="8.4" height="6.800000000000011" fill="#f5c000"/>
<rect x="117.1" y="272.5" width="8.4" height="6.300000000000011" fill="#32a83a"/>
<circle cx="47.8" cy="264.9" r="1.7" fill="none" stroke="#222" stroke-width="1.2"/>
<circle cx="51.3" cy="264.9" r="1.7" fill="none" stroke="#222" stroke-width="1.2"/>
<circle cx="54" cy="267.2" r="1.7" fill="none" stroke="#222" stroke-width="1.2"/>
<circle cx="49.4" cy="267.2" r="1.7" fill="none" stroke="#222" stroke-width="1.2"/>
<circle cx="47.1" cy="269.8" r="1.7" fill="none" stroke="#222" stroke-width="1.2"/>
<circle cx="50.9" cy="269.8" r="1.7" fill="none" stroke="#222" stroke-width="1.2"/>
<circle cx="54" cy="270.7" r="1.7" fill="none" stroke="#222" stroke-width="1.2"/>
<circle cx="60.8" cy="266" r="1.7" fill="#111"/>
<circle cx="63.5" cy="265" r="1.7" fill="#111"/>
<circle cx="66.5" cy="266.5" r="1.7" fill="#111"/>
<circle cx="61.5" cy="269" r="1.7" fill="#111"/>
<circle cx="64.5" cy="268.8" r="1.7" fill="#111"/>
<circle cx="67" cy="270" r="1.7" fill="#111"/>
<circle cx="63.5" cy="271.5" r="1.7" fill="#111"/>
<circle cx="74" cy="268.3" r="1.7" fill="#111"/>
<circle cx="76.5" cy="267.6" r="1.7" fill="#111"/>
<circle cx="79" cy="268.3" r="1.7" fill="#111"/>
<circle cx="75.5" cy="270.3" r="1.7" fill="#111"/>
<circle cx="78.5" cy="270.3" r="1.7" fill="#111"/>
<circle cx="77.1" cy="264.9" r="1.7" fill="none" stroke="#222" stroke-width="1.2"/>
<circle cx="94.5" cy="264.8" r="1.7" fill="#111"/>
<circle cx="92.5" cy="267.5" r="1.7" fill="#111"/>
<circle cx="96.5" cy="267" r="1.7" fill="#111"/>
<circle cx="95" cy="269" r="1.7" fill="#111"/>
<circle cx="93.3" cy="270.8" r="1.7" fill="#111"/>
<circle cx="97.3" cy="270.5" r="1.7" fill="#111"/>
<circle cx="95.2" cy="271.3" r="1.7" fill="#111"/>
<circle cx="105.8" cy="269" r="1.7" fill="#111"/>
<circle cx="108.2" cy="268.3" r="1.7" fill="#111"/>
<circle cx="110.5" cy="269" r="1.7" fill="#111"/>
<circle cx="106" cy="271" r="1.7" fill="#111"/>
<circle cx="108.2" cy="271" r="1.7" fill="#111"/>
<circle cx="110.5" cy="271.2" r="1.7" fill="#111"/>
<circle cx="120.6" cy="263" r="1.7" fill="#111"/>
<circle cx="121.9" cy="262.2" r="1.7" fill="#111"/>
<circle cx="119.5" cy="267.5" r="1.7" fill="#111"/>
<circle cx="122" cy="266.8" r="1.7" fill="#111"/>
<circle cx="124" cy="268" r="1.7" fill="#111"/>
<circle cx="119.5" cy="270.5" r="1.7" fill="#111"/>
<circle cx="122" cy="270" r="1.7" fill="#111"/>
<circle cx="124.2" cy="271" r="1.7" fill="#111"/>
<circle cx="121" cy="271.6" r="1.7" fill="#111"/>
<text transform="translate(50.5,292) scale(0.91,1)" font-size="9.0" text-anchor="middle" fill="#1e1e1e" style="font-style:italic;" >wt</text>
<text transform="translate(63.7,292) scale(0.91,1)" font-size="9.0" text-anchor="middle" fill="#1e1e1e" style="font-style:italic;" >het</text>
<text transform="translate(76.7,292) scale(0.91,1)" font-size="9.0" text-anchor="middle" fill="#1e1e1e" style="font-style:italic;" >se</text>
<line x1="40.8" y1="295" x2="82.3" y2="295" stroke="#2b2b2b" stroke-width="1.0"/>
<text transform="translate(61.5,303.4) scale(0.93,1)" font-size="8.6" text-anchor="middle" fill="#1e1e1e" style="" >Male</text>
<text transform="translate(94.9,292) scale(0.91,1)" font-size="9.0" text-anchor="middle" fill="#1e1e1e" style="font-style:italic;" >wt</text>
<text transform="translate(108.1,292) scale(0.91,1)" font-size="9.0" text-anchor="middle" fill="#1e1e1e" style="font-style:italic;" >het</text>
<text transform="translate(121.3,292) scale(0.91,1)" font-size="9.0" text-anchor="middle" fill="#1e1e1e" style="font-style:italic;" >se</text>
<line x1="88.5" y1="295" x2="131" y2="295" stroke="#2b2b2b" stroke-width="1.0"/>
<text transform="translate(106,303.4) scale(0.93,1)" font-size="8.6" text-anchor="middle" fill="#1e1e1e" style="" >Female</text>
<text transform="translate(26.9,292) scale(0.92,1)" font-size="8.6" text-anchor="middle" fill="#1e1e1e" font-style="italic">Bmp5</text>
<text transform="translate(17.8,231.4) rotate(-90)" font-size="8.5" text-anchor="middle" fill="#1e1e1e" textLength="55" lengthAdjust="spacingAndGlyphs">Liver iron (µg/g)</text>
<text transform="translate(201.2,179.6) scale(0.92,1)" font-size="8.6" text-anchor="middle" fill="#1e1e1e" style="" >8 weeks</text>
<line x1="157.4" y1="188.10000000000002" x2="157.4" y2="279.3" stroke="#2b2b2b" stroke-width="1.25"/>
<line x1="154.1" y1="278.8" x2="157.4" y2="278.8" stroke="#2b2b2b" stroke-width="1.1"/>
<text transform="translate(151.20,281.25) scale(0.88,1)" font-size="8.3" text-anchor="end" fill="#262626" style="stroke-width:0.08px">0</text>
<line x1="154.1" y1="249.3" x2="157.4" y2="249.3" stroke="#2b2b2b" stroke-width="1.1"/>
<text transform="translate(151.20,251.75) scale(0.88,1)" font-size="8.3" text-anchor="end" fill="#262626" style="stroke-width:0.08px">50</text>
<line x1="154.1" y1="219.8" x2="157.4" y2="219.8" stroke="#2b2b2b" stroke-width="1.1"/>
<text transform="translate(151.20,222.25) scale(0.88,1)" font-size="8.3" text-anchor="end" fill="#262626" style="stroke-width:0.08px">100</text>
<line x1="154.1" y1="190.3" x2="157.4" y2="190.3" stroke="#2b2b2b" stroke-width="1.1"/>
<text transform="translate(151.20,192.75) scale(0.88,1)" font-size="8.3" text-anchor="end" fill="#262626" style="stroke-width:0.08px">150</text>
<line x1="157.4" y1="278.8" x2="245.7" y2="278.8" stroke="#2b2b2b" stroke-width="1.15"/>
<line x1="166.3" y1="278.8" x2="166.3" y2="281.6" stroke="#2b2b2b" stroke-width="1.0"/>
<line x1="179.6" y1="278.8" x2="179.6" y2="281.6" stroke="#2b2b2b" stroke-width="1.0"/>
<line x1="192.8" y1="278.8" x2="192.8" y2="281.6" stroke="#2b2b2b" stroke-width="1.0"/>
<line x1="210.8" y1="278.8" x2="210.8" y2="281.6" stroke="#2b2b2b" stroke-width="1.0"/>
<line x1="224.1" y1="278.8" x2="224.1" y2="281.6" stroke="#2b2b2b" stroke-width="1.0"/>
<line x1="237.1" y1="278.8" x2="237.1" y2="281.6" stroke="#2b2b2b" stroke-width="1.0"/>
<rect x="162.10000000000002" y="248.1" width="8.4" height="30.700000000000017" fill="#c6c6cc"/>
<line x1="166.3" y1="244.5" x2="166.3" y2="251.7" stroke="#2b2b2b" stroke-width="0.9"/>
<line x1="163.5" y1="244.5" x2="169.10000000000002" y2="244.5" stroke="#2b2b2b" stroke-width="0.9"/>
<rect x="175.4" y="248.1" width="8.4" height="30.700000000000017" fill="#f18c00"/>
<line x1="179.6" y1="244" x2="179.6" y2="252.2" stroke="#2b2b2b" stroke-width="0.9"/>
<line x1="176.79999999999998" y1="244" x2="182.4" y2="244" stroke="#2b2b2b" stroke-width="0.9"/>
<rect x="188.60000000000002" y="249.3" width="8.4" height="29.5" fill="#c06f1e"/>
<line x1="192.8" y1="244.5" x2="192.8" y2="254.10000000000002" stroke="#2b2b2b" stroke-width="0.9"/>
<line x1="190.0" y1="244.5" x2="195.60000000000002" y2="244.5" stroke="#2b2b2b" stroke-width="0.9"/>
<rect x="206.60000000000002" y="233.1" width="8.4" height="45.70000000000002" fill="#c6c6cc"/>
<line x1="210.8" y1="228.5" x2="210.8" y2="237.7" stroke="#2b2b2b" stroke-width="0.9"/>
<line x1="208.0" y1="228.5" x2="213.60000000000002" y2="228.5" stroke="#2b2b2b" stroke-width="0.9"/>
<rect x="219.9" y="233.1" width="8.4" height="45.70000000000002" fill="#f18c00"/>
<line x1="224.1" y1="229" x2="224.1" y2="237.2" stroke="#2b2b2b" stroke-width="0.9"/>
<line x1="221.29999999999998" y1="229" x2="226.9" y2="229" stroke="#2b2b2b" stroke-width="0.9"/>
<rect x="232.9" y="228.9" width="8.4" height="49.900000000000006" fill="#c06f1e"/>
<line x1="237.1" y1="225" x2="237.1" y2="232.8" stroke="#2b2b2b" stroke-width="0.9"/>
<line x1="234.29999999999998" y1="225" x2="239.9" y2="225" stroke="#2b2b2b" stroke-width="0.9"/>
<circle cx="164.9" cy="244.2" r="1.7" fill="none" stroke="#222" stroke-width="1.0"/>
<circle cx="168.4" cy="244.6" r="1.7" fill="none" stroke="#222" stroke-width="1.0"/>
<circle cx="166.1" cy="247" r="1.7" fill="none" stroke="#222" stroke-width="1.0"/>
<circle cx="169.1" cy="247.4" r="1.7" fill="none" stroke="#222" stroke-width="1.0"/>
<circle cx="166.8" cy="251.1" r="1.7" fill="none" stroke="#222" stroke-width="1.0"/>
<circle cx="166.1" cy="259.7" r="1.7" fill="none" stroke="#222" stroke-width="1.0"/>
<circle cx="179.2" cy="237.3" r="1.7" fill="none" stroke="#222" stroke-width="1.0"/>
<circle cx="179.2" cy="241.6" r="1.7" fill="none" stroke="#222" stroke-width="1.0"/>
<circle cx="177.6" cy="247" r="1.7" fill="none" stroke="#222" stroke-width="1.0"/>
<circle cx="182.2" cy="246.5" r="1.7" fill="none" stroke="#222" stroke-width="1.0"/>
<circle cx="180" cy="250" r="1.7" fill="none" stroke="#222" stroke-width="1.0"/>
<circle cx="177.8" cy="252.5" r="1.7" fill="none" stroke="#222" stroke-width="1.0"/>
<circle cx="182" cy="251.5" r="1.7" fill="none" stroke="#222" stroke-width="1.0"/>
<circle cx="178.8" cy="260.8" r="1.7" fill="none" stroke="#222" stroke-width="1.0"/>
<circle cx="192.6" cy="232.6" r="1.7" fill="none" stroke="#222" stroke-width="1.0"/>
<circle cx="192.6" cy="237.7" r="1.7" fill="none" stroke="#222" stroke-width="1.0"/>
<circle cx="192.2" cy="245.8" r="1.7" fill="none" stroke="#222" stroke-width="1.0"/>
<circle cx="190.3" cy="250.4" r="1.7" fill="none" stroke="#222" stroke-width="1.0"/>
<circle cx="195" cy="251.1" r="1.7" fill="none" stroke="#222" stroke-width="1.0"/>
<circle cx="191.5" cy="258" r="1.7" fill="none" stroke="#222" stroke-width="1.0"/>
<circle cx="194.5" cy="257.3" r="1.7" fill="none" stroke="#222" stroke-width="1.0"/>
<circle cx="211.1" cy="214.2" r="1.7" fill="#111"/>
<circle cx="211.1" cy="228.5" r="1.7" fill="#111"/>
<circle cx="207.7" cy="240" r="1.7" fill="#111"/>
<circle cx="213.4" cy="238.9" r="1.7" fill="#111"/>
<circle cx="210" cy="239.6" r="1.7" fill="#111"/>
<circle cx="211.5" cy="236.5" r="1.7" fill="#111"/>
<circle cx="221.5" cy="224.3" r="1.7" fill="#111"/>
<circle cx="226.8" cy="224.3" r="1.7" fill="#111"/>
<circle cx="223.1" cy="229.6" r="1.7" fill="#111"/>
<circle cx="220.4" cy="235.4" r="1.7" fill="#111"/>
<circle cx="226.8" cy="236.6" r="1.7" fill="#111"/>
<circle cx="223.8" cy="244.2" r="1.7" fill="#111"/>
<circle cx="234.7" cy="221.1" r="1.7" fill="#111"/>
<circle cx="240" cy="219.2" r="1.7" fill="#111"/>
<circle cx="237.7" cy="226.2" r="1.7" fill="#111"/>
<circle cx="234.2" cy="231.9" r="1.7" fill="#111"/>
<circle cx="240" cy="231.9" r="1.7" fill="#111"/>
<circle cx="237.7" cy="238.2" r="1.7" fill="#111"/>
<text transform="translate(166.3,292) scale(0.91,1)" font-size="9.0" text-anchor="middle" fill="#1e1e1e" style="font-style:italic;" >wt</text>
<text transform="translate(179.6,292) scale(0.91,1)" font-size="9.0" text-anchor="middle" fill="#1e1e1e" style="font-style:italic;" >het</text>
<text transform="translate(192.8,292) scale(0.91,1)" font-size="9.0" text-anchor="middle" fill="#1e1e1e" style="font-style:italic;" >se</text>
<line x1="156" y1="295" x2="198.8" y2="295" stroke="#2b2b2b" stroke-width="1.0"/>
<text transform="translate(177.1,303.4) scale(0.93,1)" font-size="8.6" text-anchor="middle" fill="#1e1e1e" style="" >Male</text>
<text transform="translate(210.8,292) scale(0.91,1)" font-size="9.0" text-anchor="middle" fill="#1e1e1e" style="font-style:italic;" >wt</text>
<text transform="translate(224.1,292) scale(0.91,1)" font-size="9.0" text-anchor="middle" fill="#1e1e1e" style="font-style:italic;" >het</text>
<text transform="translate(237.1,292) scale(0.91,1)" font-size="9.0" text-anchor="middle" fill="#1e1e1e" style="font-style:italic;" >se</text>
<line x1="204.3" y1="295" x2="246.6" y2="295" stroke="#2b2b2b" stroke-width="1.0"/>
<text transform="translate(221.9,303.4) scale(0.93,1)" font-size="8.6" text-anchor="middle" fill="#1e1e1e" style="" >Female</text>
<line x1="317" y1="192.8" x2="317" y2="279.3" stroke="#2b2b2b" stroke-width="1.25"/>
<line x1="313.7" y1="278.8" x2="317" y2="278.8" stroke="#2b2b2b" stroke-width="0.9"/>
<text transform="translate(310.2,281.50) scale(0.88,1)" font-size="8.3" text-anchor="end" fill="#1e1e1e">0</text>
<line x1="313.7" y1="262.04" x2="317" y2="262.04" stroke="#2b2b2b" stroke-width="0.9"/>
<text transform="translate(310.6,264.74) scale(0.88,1)" font-size="8.3" text-anchor="end" fill="#1e1e1e">2×10<tspan dy="-3.3" font-size="5.8">5</tspan></text>
<line x1="313.7" y1="245.28" x2="317" y2="245.28" stroke="#2b2b2b" stroke-width="0.9"/>
<text transform="translate(310.6,247.98) scale(0.88,1)" font-size="8.3" text-anchor="end" fill="#1e1e1e">4×10<tspan dy="-3.3" font-size="5.8">5</tspan></text>
<line x1="313.7" y1="228.52" x2="317" y2="228.52" stroke="#2b2b2b" stroke-width="0.9"/>
<text transform="translate(310.6,231.22) scale(0.88,1)" font-size="8.3" text-anchor="end" fill="#1e1e1e">6×10<tspan dy="-3.3" font-size="5.8">5</tspan></text>
<line x1="313.7" y1="211.76" x2="317" y2="211.76" stroke="#2b2b2b" stroke-width="0.9"/>
<text transform="translate(310.6,214.46) scale(0.88,1)" font-size="8.3" text-anchor="end" fill="#1e1e1e">8×10<tspan dy="-3.3" font-size="5.8">5</tspan></text>
<line x1="313.7" y1="195.0" x2="317" y2="195.0" stroke="#2b2b2b" stroke-width="0.9"/>
<text transform="translate(310.6,197.70) scale(0.88,1)" font-size="8.3" text-anchor="end" fill="#1e1e1e">1×10<tspan dy="-3.3" font-size="5.8">6</tspan></text>
<line x1="317" y1="278.8" x2="442" y2="278.8" stroke="#2b2b2b" stroke-width="1.15"/>
<line x1="330.5" y1="278.8" x2="330.5" y2="281.6" stroke="#2b2b2b" stroke-width="1.0"/>
<line x1="363.8" y1="278.8" x2="363.8" y2="281.6" stroke="#2b2b2b" stroke-width="1.0"/>
<line x1="395.5" y1="278.8" x2="395.5" y2="281.6" stroke="#2b2b2b" stroke-width="1.0"/>
<line x1="427.5" y1="278.8" x2="427.5" y2="281.6" stroke="#2b2b2b" stroke-width="1.0"/>
<rect x="320.6" y="271.5" width="7.4" height="7.300000000000011" fill="#cfcfcf"/>
<rect x="332.90000000000003" y="273.5" width="7.4" height="5.300000000000011" fill="#cfcfcf"/>
<rect x="353.1" y="262.5" width="7.4" height="16.30000000000001" fill="#cfcfcf"/>
<line x1="356.8" y1="259" x2="356.8" y2="266.0" stroke="#2b2b2b" stroke-width="0.9"/>
<line x1="354.0" y1="259" x2="359.6" y2="259" stroke="#2b2b2b" stroke-width="0.9"/>
<rect x="365.6" y="249" width="7.4" height="29.80000000000001" fill="#cfcfcf"/>
<line x1="369.3" y1="242" x2="369.3" y2="256" stroke="#2b2b2b" stroke-width="0.9"/>
<line x1="366.5" y1="242" x2="372.1" y2="242" stroke="#2b2b2b" stroke-width="0.9"/>
<rect x="385.6" y="273.5" width="7.4" height="5.300000000000011" fill="#cfcfcf"/>
<rect x="397.3" y="272.5" width="7.4" height="6.300000000000011" fill="#cfcfcf"/>
<rect x="418.0" y="269" width="7.4" height="9.800000000000011" fill="#cfcfcf"/>
<rect x="430.6" y="235" width="7.4" height="43.80000000000001" fill="#cfcfcf"/>
<line x1="434.3" y1="228" x2="434.3" y2="242" stroke="#2b2b2b" stroke-width="0.9"/>
<line x1="431.5" y1="228" x2="437.1" y2="228" stroke="#2b2b2b" stroke-width="0.9"/>
<polygon points="324,264.4 322.005,267.97 325.995,267.97" fill="none" stroke="#222" stroke-width="0.7"/>
<polygon points="322.5,267.4 320.505,270.97 324.495,270.97" fill="none" stroke="#222" stroke-width="0.7"/>
<polygon points="325.5,267.4 323.505,270.97 327.495,270.97" fill="none" stroke="#222" stroke-width="0.7"/>
<polygon points="323,270.4 321.005,273.97 324.995,273.97" fill="none" stroke="#222" stroke-width="0.7"/>
<polygon points="326,270.4 324.005,273.97 327.995,273.97" fill="none" stroke="#222" stroke-width="0.7"/>
<polygon points="324,273.4 322.005,276.97 325.995,276.97" fill="none" stroke="#222" stroke-width="0.7"/>
<polygon points="322,273.9 320.005,277.47 323.995,277.47" fill="none" stroke="#222" stroke-width="0.7"/>
<polygon points="326.5,273.9 324.505,277.47 328.495,277.47" fill="none" stroke="#222" stroke-width="0.7"/>
<polygon points="324,265.9 322.48,268.62 325.52,268.62" fill="#111"/>
<polygon points="324,271.9 322.48,274.62 325.52,274.62" fill="#111"/>
<rect x="332.7" y="271.4" width="3.2" height="3.2" fill="none" stroke="#222" stroke-width="0.7"/>
<rect x="336.9" y="271.2" width="3.2" height="3.2" fill="none" stroke="#222" stroke-width="0.7"/>
<rect x="332.7" y="274.59999999999997" width="3.2" height="3.2" fill="none" stroke="#222" stroke-width="0.7"/>
<rect x="337.2" y="274.59999999999997" width="3.2" height="3.2" fill="none" stroke="#222" stroke-width="0.7"/>
<rect x="334.9" y="271.59999999999997" width="3.2" height="3.2" fill="#111"/>
<rect x="334.9" y="274.4" width="3.2" height="3.2" fill="#111"/>
<rect x="333.59999999999997" y="272.9" width="3.2" height="3.2" fill="none" stroke="#222" stroke-width="0.7"/>
<rect x="336.4" y="273.2" width="3.2" height="3.2" fill="none" stroke="#222" stroke-width="0.7"/>
<polygon points="356.8,256.4 354.805,259.97 358.795,259.97" fill="none" stroke="#222" stroke-width="0.7"/>
<polygon points="355,259.4 353.005,262.97 356.995,262.97" fill="none" stroke="#222" stroke-width="0.7"/>
<polygon points="358.5,259.4 356.505,262.97 360.495,262.97" fill="none" stroke="#222" stroke-width="0.7"/>
<polygon points="355.5,262.4 353.505,265.97 357.495,265.97" fill="none" stroke="#222" stroke-width="0.7"/>
<polygon points="358,262.4 356.005,265.97 359.995,265.97" fill="none" stroke="#222" stroke-width="0.7"/>
<polygon points="356.8,264.9 354.805,268.47 358.795,268.47" fill="none" stroke="#222" stroke-width="0.7"/>
<polygon points="355,266.4 353.005,269.97 356.995,269.97" fill="none" stroke="#222" stroke-width="0.7"/>
<polygon points="358.5,266.9 356.505,270.47 360.495,270.47" fill="none" stroke="#222" stroke-width="0.7"/>
<polygon points="356.8,260.9 355.28000000000003,263.62 358.32,263.62" fill="#111"/>
<polygon points="356.5,264.4 354.98,267.12 358.02,267.12" fill="#111"/>
<rect x="367.59999999999997" y="229.6" width="3.2" height="3.2" fill="none" stroke="#222" stroke-width="0.7"/>
<rect x="365.4" y="241.9" width="3.2" height="3.2" fill="none" stroke="#222" stroke-width="0.7"/>
<rect x="369.4" y="240.9" width="3.2" height="3.2" fill="none" stroke="#222" stroke-width="0.7"/>
<rect x="364.9" y="245.4" width="3.2" height="3.2" fill="none" stroke="#222" stroke-width="0.7"/>
<rect x="369.9" y="244.9" width="3.2" height="3.2" fill="none" stroke="#222" stroke-width="0.7"/>
<rect x="367.4" y="247.9" width="3.2" height="3.2" fill="none" stroke="#222" stroke-width="0.7"/>
<rect x="365.4" y="249.4" width="3.2" height="3.2" fill="none" stroke="#222" stroke-width="0.7"/>
<line x1="337.8" y1="197.1" x2="369.7" y2="197.1" stroke="#2b2b2b" stroke-width="0.9"/>
<circle cx="350.55" cy="193.40" r="1.1" fill="#222"/>
<circle cx="354.05" cy="193.40" r="1.1" fill="#222"/>
<circle cx="357.55" cy="193.40" r="1.1" fill="#222"/>
<line x1="322.6" y1="210.5" x2="354.4" y2="210.5" stroke="#2b2b2b" stroke-width="0.9"/>
<circle cx="337.05" cy="206.80" r="1.1" fill="#222"/>
<circle cx="340.55" cy="206.80" r="1.1" fill="#222"/>
<line x1="357.2" y1="210.5" x2="370.6" y2="210.5" stroke="#2b2b2b" stroke-width="0.9"/>
<circle cx="360.70" cy="206.80" r="1.1" fill="#222"/>
<circle cx="364.20" cy="206.80" r="1.1" fill="#222"/>
<circle cx="367.70" cy="206.80" r="1.1" fill="#222"/>
<polygon points="389.3,268.9 387.305,272.47 391.295,272.47" fill="#111"/>
<polygon points="388,271.4 386.005,274.97 389.995,274.97" fill="#111"/>
<polygon points="390.8,271.7 388.805,275.27000000000004 392.795,275.27000000000004" fill="#111"/>
<polygon points="387.8,273.7 385.805,277.27000000000004 389.795,277.27000000000004" fill="#111"/>
<polygon points="391,273.7 389.005,277.27000000000004 392.995,277.27000000000004" fill="#111"/>
<rect x="399.9" y="267.2" width="3.2" height="3.2" fill="#111"/>
<rect x="397.7" y="270.4" width="3.2" height="3.2" fill="#111"/>
<rect x="401.2" y="270.4" width="3.2" height="3.2" fill="#111"/>
<rect x="397.7" y="273.4" width="3.2" height="3.2" fill="#111"/>
<rect x="401.2" y="273.4" width="3.2" height="3.2" fill="#111"/>
<polygon points="421.6,261.8 419.985,264.69 423.21500000000003,264.69" fill="#111"/>
<polygon points="421.6,267.4 419.605,270.97 423.595,270.97" fill="#111"/>
<polygon points="420.3,269.9 418.305,273.47 422.295,273.47" fill="#111"/>
<polygon points="422.8,270.2 420.805,273.77000000000004 424.795,273.77000000000004" fill="#111"/>
<polygon points="421.5,272.4 419.505,275.97 423.495,275.97" fill="#111"/>
<polygon points="421.5,274.4 419.505,277.97 423.495,277.97" fill="#111"/>
<rect x="432.3" y="202.0" width="3.4" height="3.4" fill="#111"/>
<rect x="432.3" y="223.4" width="3.4" height="3.4" fill="#111"/>
<rect x="432.3" y="234.9" width="3.4" height="3.4" fill="#111"/>
<rect x="432.3" y="241.4" width="3.4" height="3.4" fill="#111"/>
<rect x="432.3" y="246.8" width="3.4" height="3.4" fill="#111"/>
<rect x="432.3" y="253.0" width="3.4" height="3.4" fill="#111"/>
<line x1="403.1" y1="185.4" x2="434.9" y2="185.4" stroke="#2b2b2b" stroke-width="0.9"/>
<circle cx="415.80" cy="181.70" r="1.1" fill="#222"/>
<circle cx="419.30" cy="181.70" r="1.1" fill="#222"/>
<circle cx="422.80" cy="181.70" r="1.1" fill="#222"/>
<line x1="421" y1="196.2" x2="434.6" y2="196.2" stroke="#2b2b2b" stroke-width="0.9"/>
<circle cx="424.60" cy="192.50" r="1.1" fill="#222"/>
<circle cx="428.10" cy="192.50" r="1.1" fill="#222"/>
<circle cx="431.60" cy="192.50" r="1.1" fill="#222"/>
<text transform="translate(330.9,291.6) scale(0.92,1)" font-size="8.5" text-anchor="middle" fill="#1e1e1e" style="font-style:italic;" >Bmp5</text>
<text transform="translate(363.3,291.6) scale(0.92,1)" font-size="8.5" text-anchor="middle" fill="#1e1e1e" style="font-style:italic;" >Bmp6</text>
<text transform="translate(395.6,291.6) scale(0.92,1)" font-size="8.5" text-anchor="middle" fill="#1e1e1e" style="font-style:italic;" >Bmp5</text>
<text transform="translate(428.4,291.6) scale(0.92,1)" font-size="8.5" text-anchor="middle" fill="#1e1e1e" style="font-style:italic;" >Bmp6</text>
<line x1="318.7" y1="295.1" x2="376" y2="295.1" stroke="#2b2b2b" stroke-width="1.0"/>
<line x1="382.7" y1="295.1" x2="440" y2="295.1" stroke="#2b2b2b" stroke-width="1.0"/>
<text transform="translate(347.1,303.4) scale(0.93,1)" font-size="8.6" text-anchor="middle" fill="#1e1e1e" style="" >Male</text>
<text transform="translate(411.4,303.4) scale(0.93,1)" font-size="8.6" text-anchor="middle" fill="#1e1e1e" style="" >Female</text>
<text transform="translate(272,235.1) rotate(-90)" font-size="8.3" text-anchor="middle" fill="#1e1e1e" textLength="44" lengthAdjust="spacingAndGlyphs">Copy number</text>
<text transform="translate(283.4,233.4) rotate(-90)" font-size="8.4" text-anchor="middle" fill="#1e1e1e" textLength="66" lengthAdjust="spacingAndGlyphs">per µg of liver RNA</text>
<polygon points="457.6,233.4 455.51000000000005,237.14 459.69,237.14" fill="none" stroke="#222" stroke-width="0.7"/>
<text transform="translate(462.4,238.2) scale(0.92,1)" font-size="8.6" text-anchor="start" fill="#1e1e1e" style="" >10 days</text>
<rect x="455.6" y="245.8" width="3.4" height="3.4" fill="none" stroke="#222" stroke-width="0.7"/>
<text transform="translate(462.2,250.1) scale(0.92,1)" font-size="8.6" text-anchor="start" fill="#1e1e1e" style="" >8 weeks</text>
<rect x="0.5" y="0.5" width="519" height="311" fill="none" stroke="#6a6a6a" stroke-width="1"/>
</svg></body></html>
